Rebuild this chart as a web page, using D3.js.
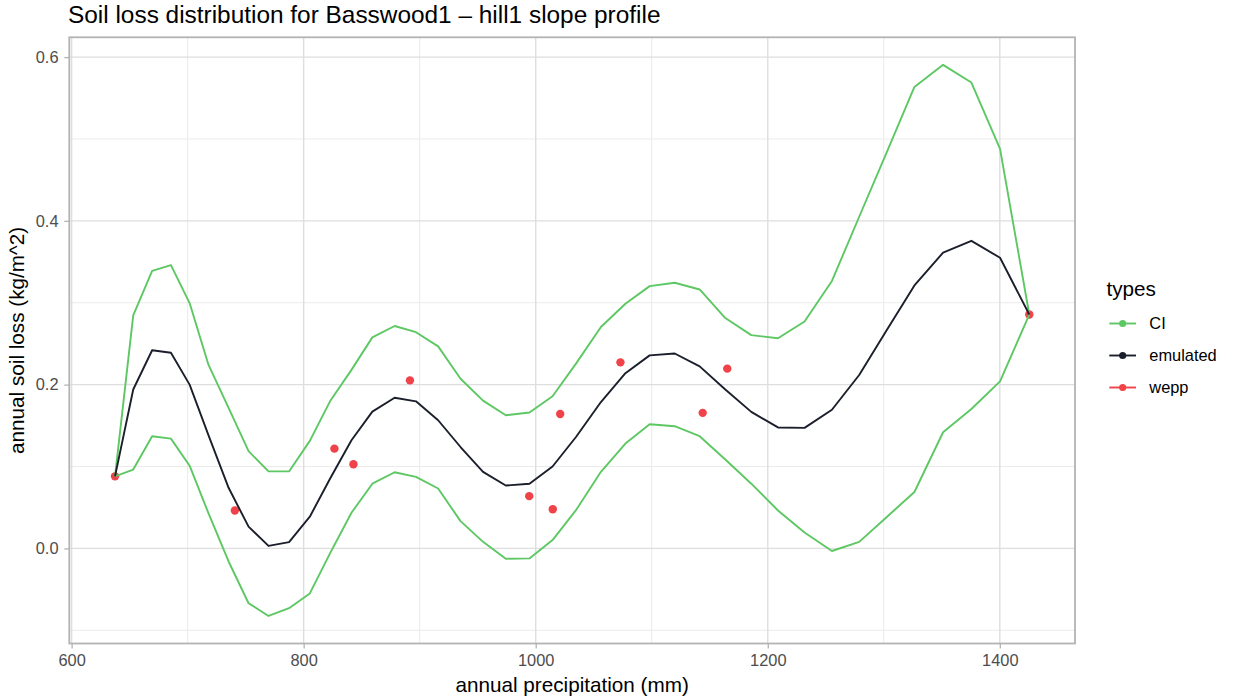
<!DOCTYPE html>
<html>
<head>
<meta charset="utf-8">
<script src="https://cdn.jsdelivr.net/npm/d3@7"></script>
<style>
  html, body { margin: 0; padding: 0; background: #fff; }
  svg { display: block; font-family: "Liberation Sans", Arial, Helvetica, sans-serif; }
</style>
</head>
<body>
<svg id="chart" width="1233" height="698"></svg>
<script>
// Annual precipitation (mm) at which the emulator curve and its CI were evaluated
const precip = [637.4, 653.1, 669.4, 685.6, 701.7, 718.0, 735.3, 752.5, 769.7, 787.4,
  805.3, 822.7, 841.2, 859.2, 878.4, 896.8, 915.9, 935.2, 954.6, 974.2,
  994.6, 1014.5, 1034.7, 1056.2, 1077.3, 1098.2, 1119.8, 1141.3, 1163.4, 1185.8,
  1208.8, 1231.7, 1255.3, 1278.8, 1302.6, 1326.4, 1351.1, 1375.5, 1400.2, 1425.4];

// Emulated annual soil loss (kg/m^2)
const emulated = [0.088, 0.194, 0.242, 0.239, 0.200, 0.138, 0.074, 0.0265, 0.003, 0.0077,
  0.0387, 0.085, 0.132, 0.167, 0.184, 0.1796, 0.1565, 0.1238, 0.0935, 0.0768,
  0.079, 0.100, 0.136, 0.1787, 0.214, 0.2357, 0.238, 0.2223, 0.194, 0.1667,
  0.1477, 0.1472, 0.1693, 0.2117, 0.2666, 0.3211, 0.3612, 0.3756, 0.3549, 0.2856];

// Upper bound of the confidence interval
const ciUpper = [0.088, 0.2845, 0.339, 0.346, 0.2996, 0.224, 0.1716, 0.1187, 0.094, 0.094,
  0.1313, 0.1796, 0.218, 0.2577, 0.2716, 0.264, 0.2467, 0.2072, 0.1805, 0.1626,
  0.1659, 0.1858, 0.2256, 0.2703, 0.2988, 0.3203, 0.3244, 0.3162, 0.2813, 0.2604,
  0.2567, 0.277, 0.3266, 0.405, 0.484, 0.5635, 0.5905, 0.5689, 0.4878, 0.2856];

// Lower bound of the confidence interval
const ciLower = [0.088, 0.0963, 0.137, 0.134, 0.101, 0.0427, -0.016, -0.067, -0.0825, -0.073,
  -0.055, -0.006, 0.0435, 0.079, 0.093, 0.0874, 0.0731, 0.0333, 0.008, -0.0126,
  -0.0122, 0.0101, 0.0467, 0.0935, 0.128, 0.1516, 0.1492, 0.137, 0.1085, 0.079,
  0.0463, 0.0193, -0.0032, 0.008, 0.0384, 0.0689, 0.1418, 0.1702, 0.204, 0.2856];

// WEPP simulated years: precipitation and soil loss
const weppPrecip = [637.4, 740.7, 826.5, 842.9, 891.6, 994.4, 1014.7, 1021.1, 1073.0, 1143.9, 1165.1, 1425.4];
const weppLoss   = [0.088, 0.0463, 0.1218, 0.1027, 0.2052, 0.0638, 0.0478, 0.1642, 0.2272, 0.1655, 0.2195, 0.2856];

const xTicks = [600, 800, 1000, 1200, 1400];
const xMinor = [700, 900, 1100, 1300];
const yTicks = [0.0, 0.2, 0.4, 0.6];
const yMinor = [-0.1, 0.1, 0.3, 0.5];

const legendTypes = ["CI", "emulated", "wepp"];
const typeColors = {CI: "#5DC863", emulated: "#1B1F2C", wepp: "#EF4249"};

const svg = d3.select("#chart");
const panel = {left: 69.3, right: 1075, top: 37.3, bottom: 643.5};

// ggplot-style 5% expansion of the data range
function expand(ext) {
  const pad = (ext[1] - ext[0]) * 0.05;
  return [ext[0] - pad, ext[1] + pad];
}
const allX = precip.concat(weppPrecip);
const allY = emulated.concat(ciUpper, ciLower, weppLoss);
const x = d3.scaleLinear().domain(expand(d3.extent(allX))).range([panel.left, panel.right]);
const y = d3.scaleLinear().domain(expand(d3.extent(allY))).range([panel.bottom, panel.top]);

// Panel grid
const grid = svg.append("g");
grid.selectAll("line.ymin").data(yMinor).join("line")
  .attr("x1", panel.left).attr("x2", panel.right)
  .attr("y1", d => y(d)).attr("y2", d => y(d))
  .attr("stroke", "#EBEBEB").attr("stroke-width", 1);
grid.selectAll("line.xmin").data(xMinor).join("line")
  .attr("y1", panel.top).attr("y2", panel.bottom)
  .attr("x1", d => x(d)).attr("x2", d => x(d))
  .attr("stroke", "#EBEBEB").attr("stroke-width", 1);
grid.selectAll("line.ymaj").data(yTicks).join("line")
  .attr("x1", panel.left).attr("x2", panel.right)
  .attr("y1", d => y(d)).attr("y2", d => y(d))
  .attr("stroke", "#DEDEDE").attr("stroke-width", 1.4);
grid.selectAll("line.xmaj").data(xTicks).join("line")
  .attr("y1", panel.top).attr("y2", panel.bottom)
  .attr("x1", d => x(d)).attr("x2", d => x(d))
  .attr("stroke", "#DEDEDE").attr("stroke-width", 1.4);

const pts = precip.map((p, i) => ({p, e: emulated[i], u: ciUpper[i], l: ciLower[i]}));
const line = key => d3.line().x(d => x(d.p)).y(d => y(d[key]));

// WEPP points
const wepp = weppPrecip.map((p, i) => ({p, v: weppLoss[i]}));
svg.append("g").selectAll("circle").data(wepp).join("circle")
  .attr("cx", d => x(d.p)).attr("cy", d => y(d.v)).attr("r", 4.2)
  .attr("fill", typeColors.wepp);

// CI bounds and emulated curve
["u", "l"].forEach(k => {
  svg.append("path").datum(pts).attr("d", line(k))
    .attr("fill", "none").attr("stroke", typeColors.CI).attr("stroke-width", 1.9)
    .attr("stroke-linejoin", "round");
});
svg.append("path").datum(pts).attr("d", line("e"))
  .attr("fill", "none").attr("stroke", typeColors.emulated).attr("stroke-width", 1.9)
  .attr("stroke-linejoin", "round");

// Panel border
svg.append("rect")
  .attr("x", panel.left).attr("y", panel.top)
  .attr("width", panel.right - panel.left).attr("height", panel.bottom - panel.top)
  .attr("fill", "none").attr("stroke", "#B3B3B3").attr("stroke-width", 1.8);

// Axes
const xAxis = svg.append("g").attr("transform", `translate(0,${panel.bottom})`)
  .call(d3.axisBottom(x).tickValues(xTicks).tickFormat(d3.format("d")).tickSize(5).tickPadding(6.3));
const yAxis = svg.append("g").attr("transform", `translate(${panel.left},0)`)
  .call(d3.axisLeft(y).tickValues(yTicks).tickFormat(d3.format(".1f")).tickSize(5).tickPadding(5.8));
[xAxis, yAxis].forEach(a => {
  a.select(".domain").remove();
  a.selectAll(".tick line").attr("stroke", "#B3B3B3").attr("stroke-width", 1.3);
  a.selectAll(".tick text").attr("fill", "#4D4D4D").style("font-size", "16.4px")
    .style("font-family", "'Liberation Sans', Arial, sans-serif");
});

// Titles
svg.append("text").attr("x", 68).attr("y", 23)
  .style("font-size", "24.4px").attr("fill", "#000")
  .text("Soil loss distribution for Basswood1 \u2013 hill1 slope profile");
svg.append("text").attr("x", (panel.left + panel.right) / 2).attr("y", 691.5)
  .attr("text-anchor", "middle").style("font-size", "20.7px").attr("fill", "#000")
  .text("annual precipitation (mm)");
svg.append("text")
  .attr("transform", `translate(24,${(panel.top + panel.bottom) / 2}) rotate(-90)`)
  .attr("text-anchor", "middle").style("font-size", "20.7px").attr("fill", "#000")
  .text("annual soil loss (kg/m^2)");

// Legend
const lg = svg.append("g");
lg.append("text").attr("x", 1106.5).attr("y", 295.5)
  .style("font-size", "20.7px").attr("fill", "#000").text("types");
const rows = lg.selectAll("g.row").data(legendTypes).join("g")
  .attr("transform", (d, i) => `translate(0,${323.5 + i * 32})`);
rows.append("line").attr("x1", 1109.3).attr("x2", 1136).attr("y1", 0).attr("y2", 0)
  .attr("stroke", d => typeColors[d]).attr("stroke-width", 1.9);
rows.append("circle").attr("cx", 1122.7).attr("cy", 0).attr("r", 3.6)
  .attr("fill", d => typeColors[d]);
rows.append("text").attr("x", 1149.3).attr("y", 5.8)
  .style("font-size", "16.4px").attr("fill", "#000").text(d => d);
</script>
</body>
</html>
